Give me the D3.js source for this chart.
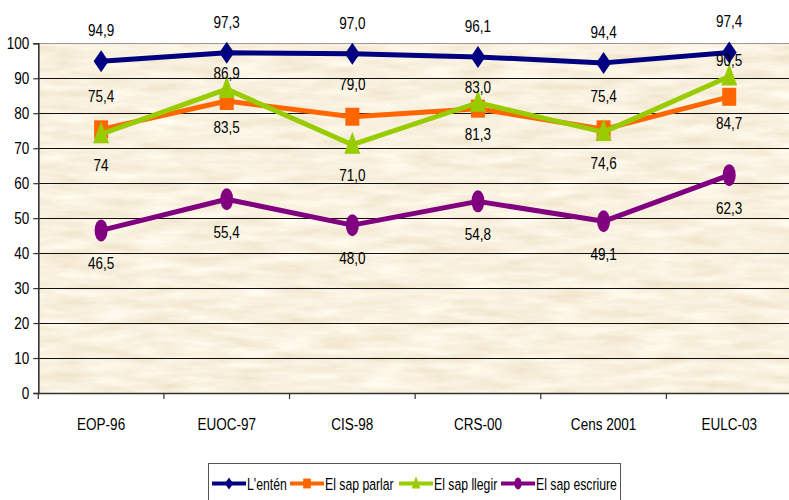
<!DOCTYPE html>
<html>
<head>
<meta charset="utf-8">
<script src="https://cdn.jsdelivr.net/npm/d3@7/dist/d3.min.js"></script>
<style>
  html, body { margin: 0; padding: 0; background: #fff; }
  svg { display: block; }
  text { font-family: "Liberation Sans", Arial, sans-serif; fill: #000; }
</style>
</head>
<body>
<svg id="chart" width="789" height="500"></svg>
<script>
// Survey sources (x axis)
const categories = ["EOP-96", "EUOC-97", "CIS-98", "CRS-00", "Cens 2001", "EULC-03"];

// Values as printed on the chart (comma decimals)
const entenLabels   = ["94,9", "97,3", "97,0", "96,1", "94,4", "97,4"];
const parlarLabels  = ["75,4", "83,5", "79,0", "81,3", "75,4", "84,7"];
const llegirLabels  = ["74",   "86,9", "71,0", "83,0", "74,6", "90,5"];
const escriureLabels = ["46,5", "55,4", "48,0", "54,8", "49,1", "62,3"];

const seriesNames = ["L'entén", "El sap parlar", "El sap llegir", "El sap escriure"];
const yTicks = [0, 10, 20, 30, 40, 50, 60, 70, 80, 90, 100];

const toNum = s => +s.replace(",", ".");

// Styling per series: colour, marker, where the value label sits
const seriesStyle = [
  { color: "#000080", marker: "diamond",  place: ["a","a","a","a","a","a"] },
  { color: "#FF6600", marker: "square",   place: ["a","b","a","b","a","b"] },
  { color: "#99CC00", marker: "triangle", place: ["b","a","b","a","b","a"] },
  { color: "#800080", marker: "circle",   place: ["b","b","b","b","b","b"] }
];
const labelOffsets = [
  { a: -31, b: 30 },
  { a: -33, b: 26 },
  { a: -16, b: 31 },
  { a: -31, b: 33 }
];

const series = [entenLabels, parlarLabels, llegirLabels, escriureLabels].map((labels, i) => ({
  name: seriesNames[i],
  ...seriesStyle[i],
  offs: labelOffsets[i],
  points: labels.map((l, j) => ({ cat: categories[j], label: l, value: toNum(l) }))
}));

// Condensed lettering: squeeze text horizontally
const NARROW = 0.82;

const svg = d3.select("#chart");
const plotLeft = 38.3, plotRight = 792, plotTop = 43.3, plotBottom = 393;

const x = d3.scaleBand().domain(categories).range([plotLeft, plotRight]);
const y = d3.scaleLinear().domain([0, 100]).range([plotBottom, plotTop]);

// Parchment texture for the plot background
const defs = svg.append("defs");
const filt = defs.append("filter").attr("id", "parchment")
  .attr("x", 0).attr("y", 0).attr("width", 1).attr("height", 1);
filt.append("feTurbulence").attr("type", "fractalNoise")
  .attr("baseFrequency", "0.022 0.11").attr("numOctaves", 4).attr("seed", 7).attr("result", "noise");
filt.append("feColorMatrix").attr("in", "noise").attr("type", "matrix")
  .attr("values", [
    "0.20 0 0 0 0.845",
    "0.28 0 0 0 0.738",
    "0.38 0 0 0 0.548",
    "0 0 0 0 1"
  ].join(" "));

svg.append("rect")
  .attr("x", plotLeft).attr("y", plotTop)
  .attr("width", plotRight - plotLeft).attr("height", plotBottom - plotTop)
  .attr("fill", "#F2E0B8")
  .attr("filter", "url(#parchment)");

// Horizontal gridlines
svg.append("g").selectAll("line")
  .data(yTicks.filter(t => t > 0 && t < 100))
  .join("line")
  .attr("x1", plotLeft).attr("x2", plotRight)
  .attr("y1", d => Math.round(y(d)) + 0.5).attr("y2", d => Math.round(y(d)) + 0.5)
  .attr("stroke", "#111").attr("stroke-width", 1);

// Top edge of the plot area
svg.append("line")
  .attr("x1", plotLeft).attr("x2", plotRight)
  .attr("y1", Math.round(plotTop) + 0.5).attr("y2", Math.round(plotTop) + 0.5)
  .attr("stroke", "#9a9a9a").attr("stroke-width", 1.2);

// Y axis
const yAxis = svg.append("g")
  .attr("transform", `translate(${plotLeft},0)`)
  .call(d3.axisLeft(y).tickValues(yTicks).tickSize(5).tickPadding(4).tickFormat(d3.format("d")));
yAxis.select(".domain").attr("stroke", "#333").attr("stroke-width", 1.6);
yAxis.selectAll(".tick line").attr("stroke", "#333").attr("stroke-width", 1.2);
yAxis.selectAll(".tick text")
  .attr("font-size", 16.5).attr("font-family", null)
  .attr("x", -9 / NARROW)
  .attr("transform", `scale(${NARROW},1)`);

// X axis: labels centred on bands, ticks on band boundaries
const xAxis = svg.append("g")
  .attr("transform", `translate(0,${plotBottom})`)
  .call(d3.axisBottom(x).tickSize(0).tickPadding(25));
xAxis.select(".domain").attr("stroke", "#333").attr("stroke-width", 1.6);
xAxis.selectAll(".tick text")
  .attr("font-size", 16.5).attr("font-family", null)
  .attr("transform", `scale(${NARROW},1)`);
xAxis.selectAll(".boundary")
  .data(categories.map(c => x(c)).concat([x.range()[1]]))
  .join("line").attr("class", "boundary")
  .attr("x1", d => d).attr("x2", d => d)
  .attr("y1", 0).attr("y2", 6)
  .attr("stroke", "#333").attr("stroke-width", 1.2);

// Marker shapes (taller than wide)
function markerPath(type, s) {
  switch (type) {
    case "diamond":  return `M0,${-11*s} L${7.5*s},0 L0,${11*s} L${-7.5*s},0 Z`;
    case "square":   return `M${-7*s},${-9*s} H${7*s} V${9*s} H${-7*s} Z`;
    case "triangle": return `M0,${-13*s} L${8*s},${9*s} L${-8*s},${9*s} Z`;
    case "circle":   return `M${-6.5*s},0 A${6.5*s},${11*s} 0 1,0 ${6.5*s},0 A${6.5*s},${11*s} 0 1,0 ${-6.5*s},0 Z`;
  }
}

const cx = d => x(d.cat) + x.bandwidth() / 2;
const line = d3.line().x(cx).y(d => y(d.value));

const plot = svg.append("g");
series.forEach(s => {
  plot.append("path")
    .datum(s.points)
    .attr("d", line)
    .attr("fill", "none")
    .attr("stroke", s.color)
    .attr("stroke-width", 5)
    .attr("stroke-linejoin", "round");
  plot.append("g").selectAll("path")
    .data(s.points)
    .join("path")
    .attr("transform", d => `translate(${cx(d)},${y(d.value)})`)
    .attr("d", markerPath(s.marker, 1))
    .attr("fill", s.color);
});

// Value labels
series.forEach(s => {
  svg.append("g").selectAll("text")
    .data(s.points)
    .join("text")
    .attr("transform", (d, i) => `translate(${cx(d)},${y(d.value) + s.offs[s.place[i]]}) scale(${NARROW},1)`)
    .attr("dy", "0.35em")
    .attr("text-anchor", "middle")
    .attr("font-size", 16.5)
    .text(d => d.label);
});

// Legend
const lg = svg.append("g").attr("transform", "translate(208.5,463.5)");
lg.append("rect").attr("width", 412).attr("height", 50)
  .attr("fill", "#fff").attr("stroke", "#555").attr("stroke-width", 1);
const legendX = [3.5, 81.5, 190.5, 292.5];
series.forEach((s, i) => {
  const g = lg.append("g").attr("transform", `translate(${legendX[i]},20)`);
  g.append("line").attr("x1", 0).attr("x2", 34).attr("stroke", s.color).attr("stroke-width", 4);
  g.append("path").attr("transform", "translate(17,0)").attr("d", markerPath(s.marker, 0.55)).attr("fill", s.color);
  g.append("text")
    .attr("transform", `translate(35,0) scale(0.72,1)`)
    .attr("dy", "0.36em").attr("font-size", 17).text(s.name);
});
</script>
</body>
</html>
